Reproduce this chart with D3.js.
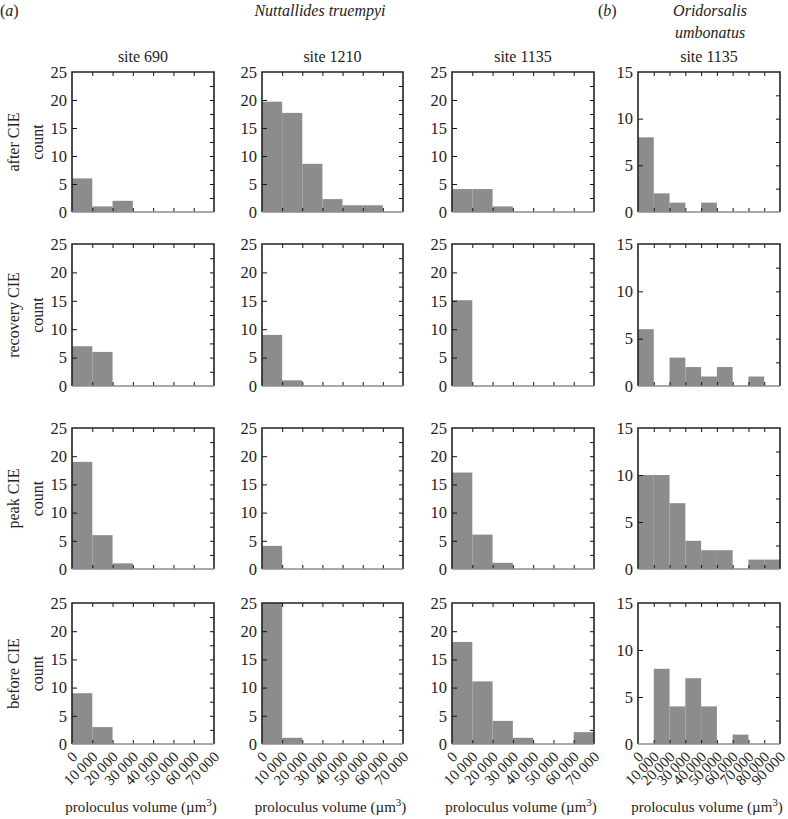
<!DOCTYPE html>
<html>
<head>
<meta charset="utf-8">
<script src="https://cdn.jsdelivr.net/npm/d3@7"></script>
<style>
  html, body { margin: 0; padding: 0; background: #fff; }
  svg text { font-family: "Liberation Serif", "Times New Roman", Tinos, "DejaVu Serif", serif !important; fill: #222; }
</style>
</head>
<body>
<svg id="chart" width="788" height="819"></svg>
<script>
// ---------------- data ----------------
const rowLabels = ["after CIE", "recovery CIE", "peak CIE", "before CIE"];
const siteLabels = ["site 690", "site 1210", "site 1135", "site 1135"];
const binEdgesNT = [0, 10000, 20000, 30000, 40000, 50000, 60000, 70000];
const binEdgesOU = [0, 10000, 20000, 30000, 40000, 50000, 60000, 70000, 80000, 90000];
const yTicksNT = [0, 5, 10, 15, 20, 25];
const yTicksOU = [0, 5, 10, 15];

// counts per bin (rows: after, recovery, peak, before)
const ntSite690 = [
  [6, 1, 2, 0, 0, 0, 0],
  [7, 6, 0, 0, 0, 0, 0],
  [19, 6, 1, 0, 0, 0, 0],
  [9, 3, 0, 0, 0, 0, 0]
];
const ntSite1210 = [
  [19.7, 17.7, 8.6, 2.3, 1.2, 1.2, 0],
  [9, 1, 0, 0, 0, 0, 0],
  [4.1, 0, 0, 0, 0, 0, 0],
  [25, 1.1, 0, 0, 0, 0, 0]
];
const ntSite1135 = [
  [4.1, 4.1, 1, 0, 0, 0, 0],
  [15.1, 0, 0, 0, 0, 0, 0],
  [17.1, 6.1, 1.1, 0, 0, 0, 0],
  [18.1, 11.1, 4.1, 1.1, 0, 0, 2.1]
];
const ouSite1135 = [
  [8, 2, 1, 0, 1, 0, 0, 0, 0],
  [6, 0, 3, 2, 1, 2, 0, 1, 0],
  [10, 10, 7, 3, 2, 2, 0, 1, 1],
  [0, 8, 4, 7, 4, 0, 1, 0, 0]
];

// ---------------- layout ----------------
const colX = [[72, 214], [262, 403], [452, 594], [638, 780]];
const rowY = [[72, 212], [244, 386], [428, 569], [603, 744]];
const barColor = "#8c8c8c";

const columns = [
  { data: ntSite690, edges: binEdgesNT, yMax: 25, yTicks: yTicksNT },
  { data: ntSite1210, edges: binEdgesNT, yMax: 25, yTicks: yTicksNT },
  { data: ntSite1135, edges: binEdgesNT, yMax: 25, yTicks: yTicksNT },
  { data: ouSite1135, edges: binEdgesOU, yMax: 15, yTicks: yTicksOU }
];

const svg = d3.select("#chart");
const fmt = d3.formatLocale({ decimal: ".", thousands: "\u2009", grouping: [3], currency: ["", ""] }).format(",d");

// header texts
const hdr = svg.append("g");
hdr.append("text").attr("x", 0).attr("y", 16).attr("font-size", 16)
  .html('(<tspan font-style="italic">a</tspan>)');
hdr.append("text").attr("x", 320).attr("y", 16).attr("font-size", 16)
  .attr("text-anchor", "middle").attr("font-style", "italic").text("Nuttallides truempyi");
hdr.append("text").attr("x", 598).attr("y", 16).attr("font-size", 16)
  .html('(<tspan font-style="italic">b</tspan>)');
hdr.append("text").attr("x", 710).attr("y", 16).attr("font-size", 16)
  .attr("text-anchor", "middle").attr("font-style", "italic").text("Oridorsalis");
hdr.append("text").attr("x", 710).attr("y", 38).attr("font-size", 16)
  .attr("text-anchor", "middle").attr("font-style", "italic").text("umbonatus");

columns.forEach((col, ci) => {
  const [x0, x1] = colX[ci];
  const xMax = col.edges[col.edges.length - 1];
  const x = d3.scaleLinear().domain([0, xMax]).range([x0, x1]);
  const interior = col.edges.slice(1, -1);

  // site title
  svg.append("text").attr("x", (x0 + x1) / 2).attr("y", 62).attr("font-size", 16)
    .attr("text-anchor", "middle").text(siteLabels[ci]);

  col.data.forEach((vals, ri) => {
    const [y0, y1] = rowY[ri];
    const y = d3.scaleLinear().domain([0, col.yMax]).range([y1, y0]).clamp(true);
    const g = svg.append("g");

    // bars
    g.selectAll("rect").data(vals).join("rect")
      .attr("x", (d, i) => x(col.edges[i]))
      .attr("width", (d, i) => x(col.edges[i + 1]) - x(col.edges[i]))
      .attr("y", d => y(d))
      .attr("height", d => y(0) - y(d))
      .attr("fill", barColor);

    // left axis (labels + inward ticks)
    const la = g.append("g").attr("transform", `translate(${x0},0)`)
      .call(d3.axisLeft(y).tickValues(col.yTicks).tickSize(-5).tickPadding(5).tickFormat(d3.format("d")));
    la.select(".domain").remove();
    la.attr("font-family", null);
    la.selectAll("text").attr("font-size", 16.5).attr("fill", "#222");
    la.selectAll("line").attr("stroke", "#111").attr("stroke-width", 1)
      .filter(d => d === 0 || d === col.yMax).remove();

    // right axis minor ticks
    const minor = d3.range(2.5, col.yMax, 2.5);
    const ra = g.append("g").attr("transform", `translate(${x1},0)`)
      .call(d3.axisRight(y).tickValues(minor).tickSize(-4).tickFormat(""));
    ra.select(".domain").remove();
    ra.selectAll("line").attr("stroke", "#111");

    // top axis ticks
    const ta = g.append("g").attr("transform", `translate(0,${y0})`)
      .call(d3.axisTop(x).tickValues(interior).tickSize(-4).tickFormat(""));
    ta.select(".domain").remove();
    ta.selectAll("line").attr("stroke", "#111");

    // bottom axis ticks (+ labels on last row)
    const ba = g.append("g").attr("transform", `translate(0,${y1})`)
      .call(d3.axisBottom(x).tickValues(col.edges).tickSize(-4)
        .tickFormat(ri === 3 ? fmt : ""));
    ba.select(".domain").remove();
    ba.attr("font-family", null);
    ba.selectAll("line").attr("stroke", "#111")
      .filter(d => d === 0 || d === xMax).remove();
    if (ri === 3) {
      ba.selectAll("text")
        .attr("x", 0).attr("y", 0).attr("dy", "0.35em")
        .attr("text-anchor", "end")
        .attr("transform", "translate(2,10) rotate(-45)")
        .attr("font-size", 15).attr("fill", "#222");
    } else {
      ba.selectAll("text").remove();
    }

    // frame: black left/top/right, grey baseline
    g.append("path")
      .attr("d", `M${x0},${y1}V${y0}H${x1}V${y1}`)
      .attr("fill", "none").attr("stroke", "#222").attr("stroke-width", 1.6);
    g.append("line").attr("x1", x0).attr("x2", x1).attr("y1", y1).attr("y2", y1)
      .attr("stroke", barColor).attr("stroke-width", 1.6);

    // row labels
    if (ci === 0) {
      const cy = (y0 + y1) / 2;
      svg.append("text").attr("transform", `translate(19,${cy}) rotate(-90)`)
        .attr("text-anchor", "middle").attr("font-size", 16).text(rowLabels[ri]);
      svg.append("text").attr("transform", `translate(43,${cy}) rotate(-90)`)
        .attr("text-anchor", "middle").attr("font-size", 16).text("count");
    }
  });

  // x-axis title
  svg.append("text").attr("x", (x0 + x1) / 2 - 2).attr("y", 812).attr("font-size", 15)
    .attr("text-anchor", "middle")
    .html('proloculus volume (\u00b5m<tspan dy="-6" font-size="11">3</tspan><tspan dy="6">)</tspan>');
});
</script>
</body>
</html>
